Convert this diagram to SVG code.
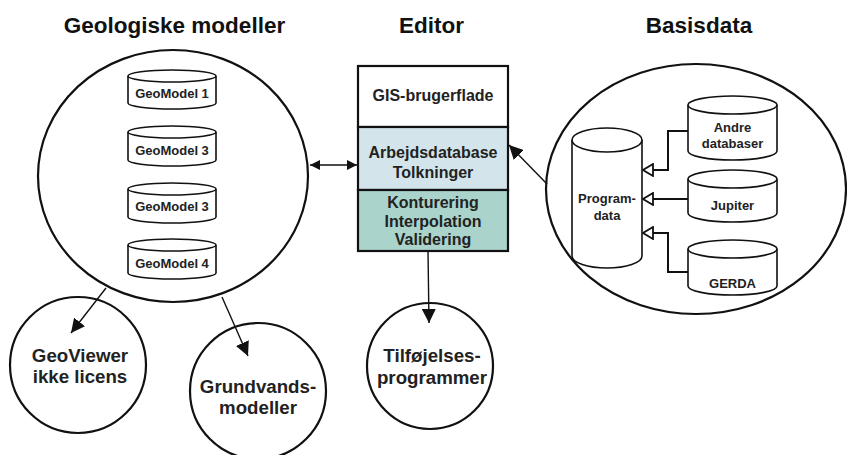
<svg xmlns="http://www.w3.org/2000/svg" width="847" height="455" viewBox="0 0 847 455">
  <style>
    .title { font-family: "Liberation Sans", Arial, sans-serif; font-weight: bold; font-size: 22.5px; fill: #111; text-anchor: middle; }
    .lbl { font-family: "Liberation Sans", Arial, sans-serif; font-weight: bold; fill: #222; text-anchor: middle; }
    .s13 { font-size: 13px; }
    .s16 { font-size: 16px; }
    .s19 { font-size: 18.7px; }
    .ring { fill: #fff; stroke: #111; stroke-width: 2.2; }
    .cyl { fill: #fff; stroke: #111; stroke-width: 1.6; }
    .box { stroke: #111; stroke-width: 2.2; }
    .wire { fill: none; stroke: #111; stroke-width: 1.4; }
    .wire2 { fill: none; stroke: #111; stroke-width: 2; }
  </style>
  <defs>
    <marker id="solid" viewBox="0 0 10 10" refX="10" refY="5" markerWidth="10" markerHeight="10" markerUnits="userSpaceOnUse" orient="auto-start-reverse">
      <path d="M0,0 L10,5 L0,10 Z" fill="#111"/>
    </marker>
    <marker id="big" viewBox="0 0 14 14" refX="14" refY="7" markerWidth="14" markerHeight="14" markerUnits="userSpaceOnUse" orient="auto">
      <path d="M0,0 L14,7 L0,14 Z" fill="#111"/>
    </marker>
    <marker id="hollow" viewBox="0 0 12 14" refX="11" refY="7" markerWidth="12" markerHeight="14" markerUnits="userSpaceOnUse" orient="auto">
      <path d="M1,1 L11,7 L1,13 Z" fill="#fff" stroke="#111" stroke-width="1.8"/>
    </marker>
  </defs>

  <!-- headings -->
  <text class="title" x="174.5" y="33">Geologiske modeller</text>
  <text class="title" x="431.5" y="33">Editor</text>
  <text class="title" x="699" y="33">Basisdata</text>

  <!-- geological models -->
  <g id="geologiske-modeller">
    <ellipse class="ring" cx="173" cy="176" rx="135" ry="126"/>
    <g id="geomodel-1">
      <path class="cyl" d="M128,76 L128,103 A44,6 0 0 0 216,103 L216,76"/>
      <ellipse class="cyl" cx="172" cy="76" rx="44" ry="6"/>
      <text class="lbl s13" x="172" y="98">GeoModel 1</text>
    </g>
    <g id="geomodel-3a">
      <path class="cyl" d="M128,132 L128,160 A44,6 0 0 0 216,160 L216,132"/>
      <ellipse class="cyl" cx="172" cy="132" rx="44" ry="6"/>
      <text class="lbl s13" x="172" y="155">GeoModel 3</text>
    </g>
    <g id="geomodel-3b">
      <path class="cyl" d="M128,189 L128,217 A44,6 0 0 0 216,217 L216,189"/>
      <ellipse class="cyl" cx="172" cy="189" rx="44" ry="6"/>
      <text class="lbl s13" x="172" y="211">GeoModel 3</text>
    </g>
    <g id="geomodel-4">
      <path class="cyl" d="M128,245 L128,273 A44,6 0 0 0 216,273 L216,245"/>
      <ellipse class="cyl" cx="172" cy="245" rx="44" ry="6"/>
      <text class="lbl s13" x="172" y="268">GeoModel 4</text>
    </g>
  </g>

  <g id="geoviewer">
    <circle class="ring" cx="78" cy="365" r="68"/>
    <text class="lbl s19" x="80" y="362">GeoViewer</text>
    <text class="lbl s19" x="80" y="383">ikke licens</text>
  </g>

  <g id="grundvandsmodeller">
    <circle class="ring" cx="258" cy="391" r="68"/>
    <text class="lbl s19" x="258" y="393">Grundvands-</text>
    <text class="lbl s19" x="258" y="414">modeller</text>
  </g>

  <!-- editor stack -->
  <g id="editor">
    <rect class="box" x="358" y="66" width="150" height="61" fill="#fff"/>
    <rect class="box" x="358" y="127" width="150" height="63" fill="#d3e5ea"/>
    <rect class="box" x="358" y="190" width="150" height="61" fill="#a9d3cb"/>
    <text class="lbl s16" x="433" y="101">GIS-brugerflade</text>
    <text class="lbl s16" x="433" y="158">Arbejdsdatabase</text>
    <text class="lbl s16" x="433" y="178">Tolkninger</text>
    <text class="lbl s16" x="433" y="208">Konturering</text>
    <text class="lbl s16" x="433" y="227">Interpolation</text>
    <text class="lbl s16" x="433" y="245">Validering</text>
  </g>

  <g id="tilfoejelsesprogrammer">
    <circle class="ring" cx="430" cy="366" r="63"/>
    <text class="lbl s19" x="432" y="362">Tilføjelses-</text>
    <text class="lbl s19" x="432" y="384">programmer</text>
  </g>

  <!-- base data -->
  <g id="basisdata">
    <ellipse class="ring" cx="696" cy="189" rx="150" ry="125"/>
    <g id="programdata">
      <path class="cyl" d="M572,140 L572,256 A35,12 0 0 0 642,256 L642,140"/>
      <ellipse class="cyl" cx="607" cy="140" rx="35" ry="12"/>
      <text class="lbl s13" x="607" y="203">Program-</text>
      <text class="lbl s13" x="607" y="220">data</text>
    </g>
    <g id="andre-databaser">
      <path class="cyl" d="M688,105 L688,151 A44.5,9 0 0 0 777,151 L777,105"/>
      <ellipse class="cyl" cx="732.5" cy="105" rx="44.5" ry="9"/>
      <text class="lbl s13" x="732.5" y="132">Andre</text>
      <text class="lbl s13" x="732.5" y="148">databaser</text>
    </g>
    <g id="jupiter">
      <path class="cyl" d="M688,179 L688,213 A44.5,9 0 0 0 777,213 L777,179"/>
      <ellipse class="cyl" cx="732.5" cy="179" rx="44.5" ry="9"/>
      <text class="lbl s13" x="732.5" y="210">Jupiter</text>
    </g>
    <g id="gerda">
      <path class="cyl" d="M688,249 L688,286 A44.5,9 0 0 0 777,286 L777,249"/>
      <ellipse class="cyl" cx="732.5" cy="249" rx="44.5" ry="9"/>
      <text class="lbl s13" x="732.5" y="288">GERDA</text>
    </g>
  </g>

  <!-- connectors -->
  <g id="connectors">
    <line class="wire" x1="310" y1="165" x2="357" y2="165" marker-start="url(#solid)" marker-end="url(#solid)"/>
    <line class="wire" x1="547" y1="184" x2="509" y2="145" marker-end="url(#big)"/>
    <line class="wire" x1="428" y1="251" x2="429" y2="323" marker-end="url(#big)"/>
    <line class="wire" x1="106" y1="288" x2="71" y2="333" marker-end="url(#big)"/>
    <line class="wire" x1="222" y1="297" x2="248" y2="356" marker-end="url(#big)"/>
    <polyline class="wire2" points="688,131 668,131 668,170 643,170" marker-end="url(#hollow)"/>
    <line class="wire2" x1="688" y1="199" x2="643" y2="199" marker-end="url(#hollow)"/>
    <polyline class="wire2" points="688,272 668,272 668,233 643,233" marker-end="url(#hollow)"/>
  </g>
</svg>
